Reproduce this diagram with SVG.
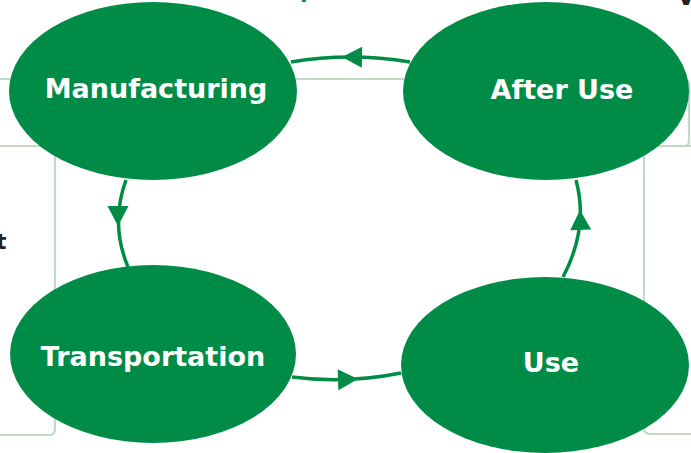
<svg xmlns="http://www.w3.org/2000/svg" xmlns:xlink="http://www.w3.org/1999/xlink" width="691" height="453" viewBox="0 0 691 453">
  <style>
    .frame { fill: none; stroke: #c2d9c6; stroke-width: 2.2; }
    .stage { fill: #008c46; }
    .label { fill: #ffffff; font-family: "DejaVu Sans", Verdana, sans-serif; font-weight: bold; font-size: 27px; text-anchor: middle; }
    .link { fill: none; stroke: #008c46; stroke-width: 3.5; }
    .head { fill: #008c46; }
    .edge-text { font-family: "DejaVu Sans", Verdana, sans-serif; }
  </style>
  <defs>
    <!-- arrowhead pointing along +x, tip at the origin -->
    <path id="arrowhead" d="M0,0 L-20,-10.5 L-20,10.5 Z"/>
  </defs>

  <rect width="691" height="453" fill="#ffffff"/>

  <!-- surrounding panel outlines -->
  <g id="panels">
    <path class="frame" d="M-5,79 H684 Q689,79 689,84 V141 Q689,146 684,146 H600"/>
    <path class="frame" d="M-5,146 H55 V429 Q55,435 49,435 H-5"/>
    <path class="frame" d="M696,146 H644 V428 Q644,434 650,434 H696"/>
  </g>

  <!-- text running off the edges of the page -->
  <g id="edge-text">
    <text class="edge-text" x="300" y="-2" font-size="22" font-weight="bold" fill="#008c46">p</text>
    <text class="edge-text" x="677.5" y="5" font-size="22" font-weight="bold" fill="#222222">V</text>
    <text class="edge-text" x="-4" y="249" font-size="22" font-weight="bold" fill="#222222">t</text>
  </g>

  <!-- cycle connectors -->
  <g id="connectors">
    <path class="link" d="M291,62 Q350,52 410,62"/>
    <use xlink:href="#arrowhead" class="head" transform="translate(342,57) rotate(181)"/>

    <path class="link" d="M126,180 Q110,224 128,267"/>
    <use xlink:href="#arrowhead" class="head" transform="translate(118,226) rotate(90)"/>

    <path class="link" d="M292,377 Q346,384 401,373"/>
    <use xlink:href="#arrowhead" class="head" transform="translate(358,379) rotate(-2)"/>

    <path class="link" d="M563,277 Q589,228 576,180"/>
    <use xlink:href="#arrowhead" class="head" transform="translate(580,210) rotate(-92)"/>
  </g>

  <g id="manufacturing">
    <ellipse class="stage" cx="153" cy="91" rx="144" ry="89"/>
    <text class="label" x="156" y="98">Manufacturing</text>
  </g>

  <g id="after-use">
    <ellipse class="stage" cx="546" cy="91" rx="143" ry="89"/>
    <text class="label" x="562" y="99">After Use</text>
  </g>

  <g id="transportation">
    <ellipse class="stage" cx="153" cy="354" rx="143" ry="89"/>
    <text class="label" x="153" y="366">Transportation</text>
  </g>

  <g id="use">
    <ellipse class="stage" cx="545" cy="365" rx="144" ry="88"/>
    <text class="label" x="551" y="372">Use</text>
  </g>
</svg>
